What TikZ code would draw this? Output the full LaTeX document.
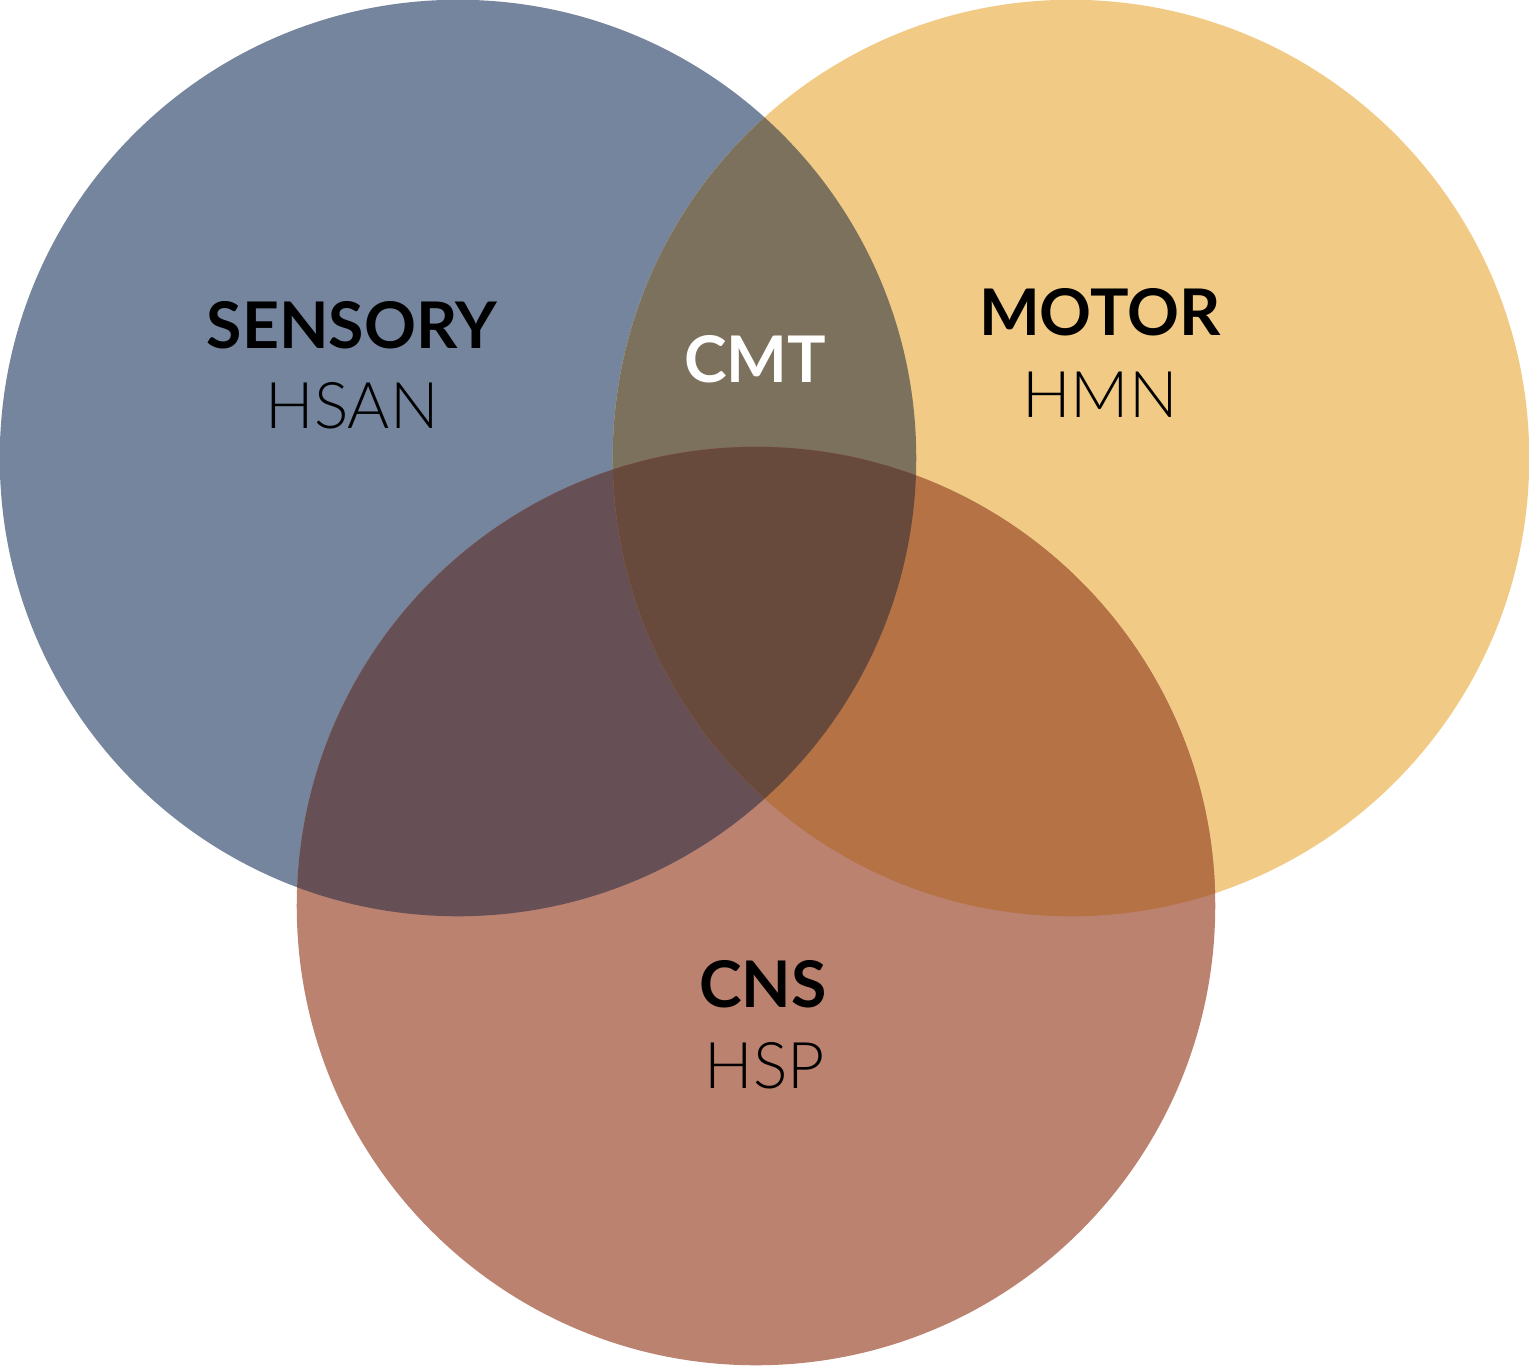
\documentclass[tikz,border=0pt]{standalone}
\usepackage{fontspec}
\setmainfont{Lato}
\newfontfamily\lightf{Lato Light}
\definecolor{cblue}{HTML}{75859D}
\definecolor{corange}{HTML}{F1CB85}
\definecolor{cred}{HTML}{BB8270}
\definecolor{cbo}{HTML}{7B715D}
\definecolor{cbr}{HTML}{665055}
\definecolor{cor}{HTML}{B57245}
\definecolor{call}{HTML}{674A3B}
\tikzset{
  lab/.style={anchor=base, inner sep=0pt, font=\fontsize{18.3}{20}\selectfont\bfseries},
  sub/.style={anchor=base, inner sep=0pt, font=\fontsize{18.3}{20}\selectfont\lightf},
}
\begin{document}
\begin{tikzpicture}[x=0.01cm,y=-0.01cm]
\useasboundingbox (0,0) rectangle (1529,1365);
\def\pB{(458,458) circle [radius=4.58cm]}
\def\pO{(1071,458) circle [radius=4.58cm]}
\def\pR{(756,906) circle [radius=4.59cm]}
\fill[cblue] \pB;
\fill[corange] \pO;
\fill[cred] \pR;
\begin{scope}\clip \pB; \fill[cbo] \pO; \end{scope}
\begin{scope}\clip \pB; \fill[cbr] \pR; \end{scope}
\begin{scope}\clip \pO; \fill[cor] \pR; \end{scope}
\begin{scope}\clip \pB; \clip \pO; \fill[call] \pR; \end{scope}
\node[lab] (sens) at (352,348) {SENSORY};
\node[sub] (hsan) at (352,428) {HSAN};
\node[lab, text=white] (cmt) at (755,382) {CMT};
\node[lab] (motor) at (1100,335) {MOTOR};
\node[sub] (hmn) at (1100,417) {HMN};
\node[lab] (cns) at (763,1007) {CNS};
\node[sub] (hsp) at (765,1088) {HSP};
\end{tikzpicture}
\end{document}
